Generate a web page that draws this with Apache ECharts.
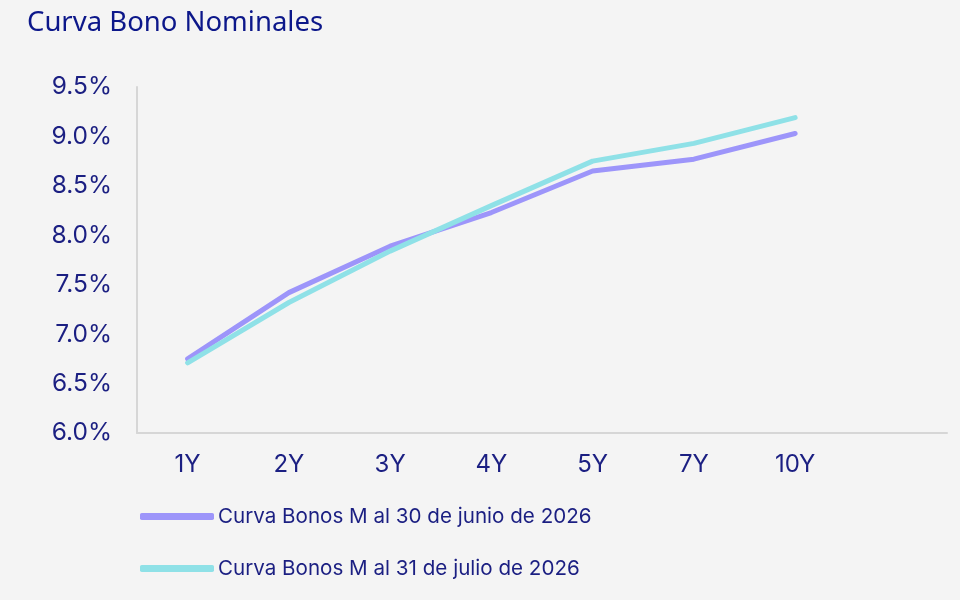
<!DOCTYPE html>
<html>
<head>
<meta charset="utf-8">
<script src="https://cdn.jsdelivr.net/npm/echarts@6/dist/echarts.min.js"></script>
<style>
  html, body { margin: 0; padding: 0; background: #f4f4f4; }
  #chart { width: 960px; height: 600px; }
</style>
</head>
<body>
<div id="chart"></div>
<script>
// tenors, last slot left blank like the original
var tenors = ['1Y', '2Y', '3Y', '4Y', '5Y', '7Y', '10Y', ''];
var junio = [6.75, 7.42, 7.89, 8.23, 8.65, 8.77, 9.03];
var julio = [6.71, 7.32, 7.84, 8.30, 8.75, 8.93, 9.19];
var serieNames = ['Curva Bonos M al 30 de junio de 2026', 'Curva Bonos M al 31 de julio de 2026'];

var navy = '#1b1f82';

var chart = echarts.init(document.getElementById('chart'));

var option = {
    backgroundColor: '#f4f4f4',
    title: {
        text: 'Curva Bono Nominales',
        left: 27,
        top: 9,
        padding: 0,
        textStyle: {
            color: '#0c178a',
            fontFamily: 'Noto Sans',
            fontWeight: 'normal',
            fontSize: 27.5
        }
    },
    legend: {
        orient: 'vertical',
        left: 140,
        top: 506,
        padding: 0,
        itemGap: 31,
        itemWidth: 74,
        itemHeight: 7,
        icon: 'roundRect',
        textStyle: {
            color: navy,
            fontFamily: 'Inter',
            fontSize: 20.6,
            padding: [0, 0, 0, -1]
        },
        data: serieNames
    },
    grid: {
        left: 137,
        right: 13,
        top: 87,
        bottom: 167
    },
    xAxis: {
        type: 'category',
        data: tenors,
        boundaryGap: true,
        axisLine: { lineStyle: { color: '#d6d6d6', width: 2 } },
        axisTick: { show: false },
        axisLabel: {
            color: navy,
            fontFamily: 'Inter',
            fontSize: 24,
            margin: 20
        }
    },
    yAxis: {
        type: 'value',
        min: 6,
        max: 9.5,
        interval: 0.5,
        axisLine: { show: true, lineStyle: { color: '#d6d6d6', width: 2 } },
        axisTick: { show: false },
        splitLine: { show: false },
        axisLabel: {
            color: navy,
            fontFamily: 'Inter',
            fontSize: 24.5,
            margin: 25,
            formatter: function (v) { return v.toFixed(1) + '%'; }
        }
    },
    series: [
        {
            name: serieNames[0],
            type: 'line',
            data: junio,
            symbol: 'none',
            lineStyle: { color: '#9d95fa', width: 5, cap: 'round', join: 'round' },
            itemStyle: { color: '#9d95fa' }
        },
        {
            name: serieNames[1],
            type: 'line',
            data: julio,
            symbol: 'none',
            lineStyle: { color: '#8fe1e7', width: 5, cap: 'round', join: 'round' },
            itemStyle: { color: '#8fe1e7' }
        }
    ]
};

chart.setOption(option);
</script>
</body>
</html>
